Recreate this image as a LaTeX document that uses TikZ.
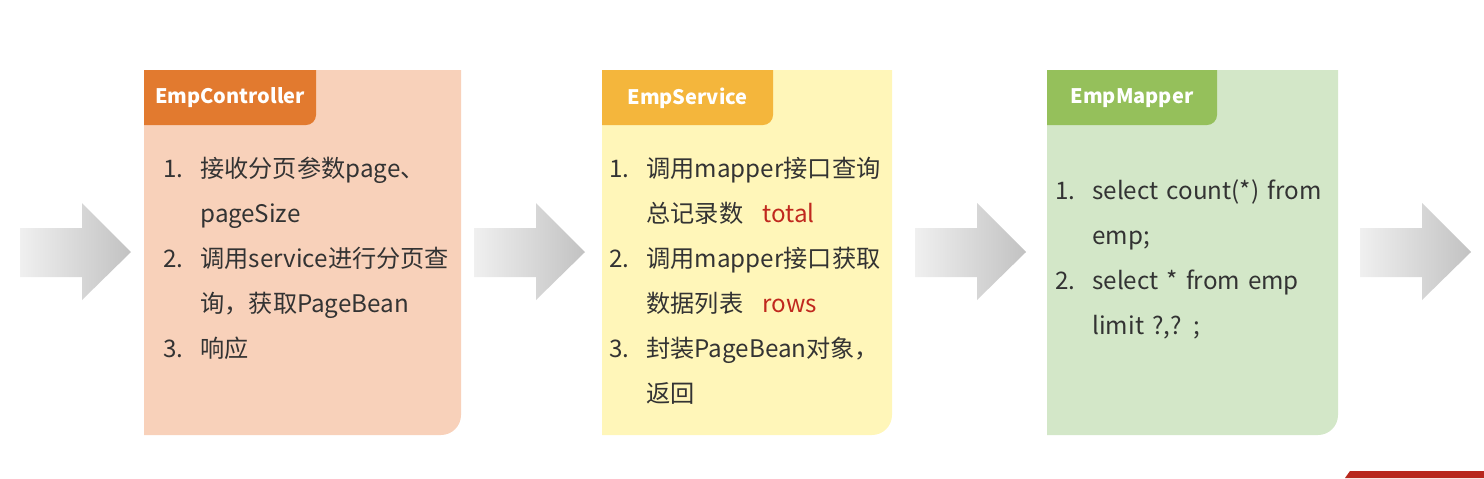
\documentclass[tikz,border=0pt]{standalone}
\usepackage{fontspec}
\setmainfont{Noto Sans CJK SC}
\usetikzlibrary{positioning}
\definecolor{ctrlbg}{HTML}{F8D1BA}
\definecolor{ctrlhd}{HTML}{E27A2F}
\definecolor{svcbg}{HTML}{FFF6B9}
\definecolor{svchd}{HTML}{F4B63C}
\definecolor{mapbg}{HTML}{D3E7C8}
\definecolor{maphd}{HTML}{95C05B}
\definecolor{txtgray}{HTML}{333333}
\definecolor{hlred}{HTML}{C0281E}
\definecolor{slidered}{HTML}{B8281E}
\tikzset{cardhead/.style={inner sep=0pt, text=white, font=\bfseries\fontsize{10}{12}\selectfont}}
\tikzset{cardlist/.style={anchor=base west, inner sep=0pt, text width=170pt, align=left, text=txtgray, font=\fontsize{12.1}{22.5}\selectfont}}
\tikzset{flowarrow/.style={left color=gray!12, right color=gray!48}}
\newcommand{\itm}[1]{\makebox[18.5pt][l]{#1}}
\newcommand{\cnt}{\hspace*{18.5pt}}

\begin{document}
\begin{tikzpicture}[x=0.5pt, y=-0.5pt]
	\useasboundingbox (0,0) rectangle (1484,478);
	% cards with their header tabs
	\foreach \xa/\xb/\xh/\bg/\hd/\nm/\ttl in {144/461/316/ctrlbg/ctrlhd/ctrl/EmpController,
			602/892/773/svcbg/svchd/svc/EmpService,
			1047/1338/1217/mapbg/maphd/map/EmpMapper}{
		\fill[\bg] (\xa,70) -| (\xb,415) arc[start angle=0, end angle=90, radius=20] -- (\xa,435) -- cycle;
		\fill[\hd] (\xa,70) -| (\xh,115) arc[start angle=0, end angle=90, radius=10] -- (\xa,125) -- cycle;
		\node[cardhead] (\nm title) at ({(\xa+\xh)/2},98) {\ttl};
	}
	%
	\node[cardlist] (ctrllist) at (163,177) {\itm{1.}接收分页参数page、\\
		\cnt pageSize\\
		\itm{2.}调用service进行分页查\\
		\cnt 询，获取PageBean\\
		\itm{3.}响应};
	\node[cardlist] (svclist) at (609,177) {\itm{1.}调用mapper接口查询\\
		\cnt 总记录数\hspace{0.8em}{\color{hlred}total}\\
		\itm{2.}调用mapper接口获取\\
		\cnt 数据列表\hspace{0.8em}{\color{hlred}rows}\\
		\itm{3.}封装PageBean对象，\\
		\cnt 返回};
	\node[cardlist] (maplist) at (1055,199) {\itm{1.}select count(*) from\\
		\cnt emp;\\
		\itm{2.}select * from emp\\
		\cnt limit ?,? ;};
	% block arrows between the cards
	\foreach \ax in {20,474,915,1360}
		\shade[flowarrow] (\ax,228) -- ++(62,0) -- ++(0,-25) -- ++(49,49) -- ++(-49,48) -- ++(0,-23) -- ++(-62,0) -- cycle;
	% corner of the slide
	\fill[slidered] (1350,471) -- (1484,471) -- (1484,478) -- (1345,478) -- cycle;
\end{tikzpicture}
\end{document}
